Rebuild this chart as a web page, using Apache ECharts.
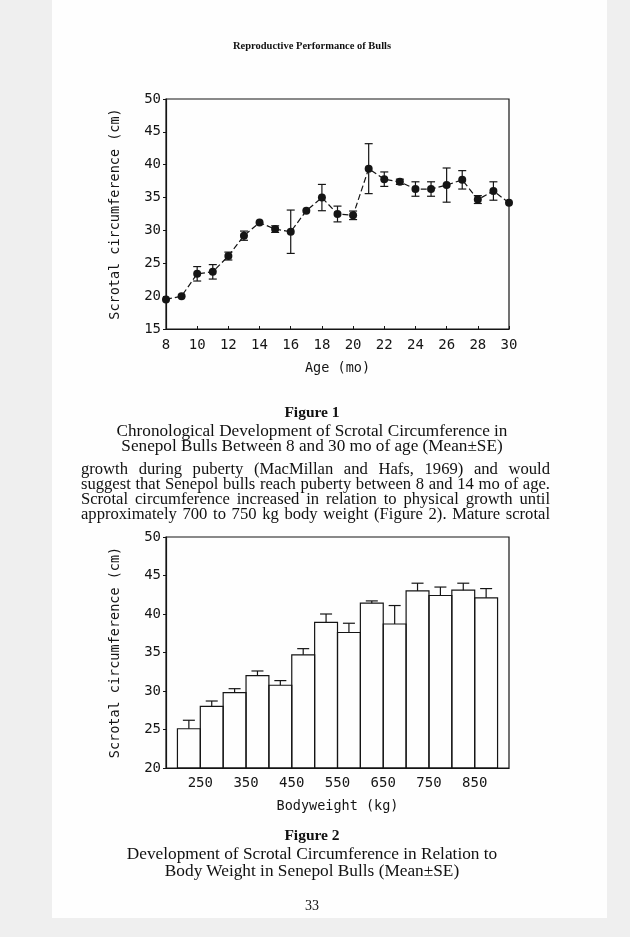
<!DOCTYPE html>
<html><head><meta charset="utf-8">
<script src="https://cdn.jsdelivr.net/npm/echarts@6/dist/echarts.min.js"></script>
<style>
html,body{margin:0;padding:0;background:#efefef;}
#page{position:absolute;left:52px;top:0;width:555px;height:918px;background:#fefefe;}
#chart{position:absolute;left:0;top:0;width:630px;height:937px;}
.t{position:absolute;font-family:"Liberation Serif","Times New Roman",serif;color:#111;white-space:nowrap;}
.c{left:0;width:624px;text-align:center;}
.j{left:81px;width:469px;text-align:justify;text-align-last:justify;font-size:16.6px;line-height:17px;}
</style></head>
<body>
<div id="page"></div>
<div id="chart"></div>
<div class="t c" style="top:40px;font-size:10.5px;line-height:11px;font-weight:bold;">Reproductive Performance of Bulls</div>
<div class="t c" style="top:404px;font-size:15.5px;line-height:16px;font-weight:bold;">Figure 1</div>
<div class="t c" style="top:421.5px;font-size:17.2px;line-height:17px;">Chronological Development of Scrotal Circumference in</div>
<div class="t c" style="top:436.5px;font-size:17.2px;line-height:17px;">Senepol Bulls Between 8 and 30 mo of age (Mean±SE)</div>
<div class="t j" style="top:460px;">growth during puberty (MacMillan and Hafs, 1969) and would</div>
<div class="t j" style="top:475px;">suggest that Senepol bulls reach puberty between 8 and 14 mo of age.</div>
<div class="t j" style="top:490px;">Scrotal circumference increased in relation to physical growth until</div>
<div class="t j" style="top:504.5px;">approximately 700 to 750 kg body weight (Figure 2). Mature scrotal</div>
<div class="t c" style="top:827px;font-size:15.5px;line-height:16px;font-weight:bold;">Figure 2</div>
<div class="t c" style="top:845px;font-size:17.3px;line-height:17px;">Development of Scrotal Circumference in Relation to</div>
<div class="t c" style="top:861.5px;font-size:17.3px;line-height:17px;">Body Weight in Senepol Bulls (Mean±SE)</div>
<div class="t c" style="top:899px;font-size:14px;line-height:14px;">33</div>
<script>
// Figure 1 data
const ages = [8,9,10,11,12,13,14,15,16,17,18,19,20,21,22,23,24,25,26,27,28,29,30];
const meanByAge = [19.5,20.0,23.4,23.7,26.1,29.2,31.2,30.2,29.8,33.0,35.0,32.5,32.3,39.4,37.8,37.4,36.3,36.3,36.9,37.7,34.7,36.0,34.2];
const seByAge = [0,0,1.1,1.1,0.6,0.7,0,0.5,3.3,0,2.0,1.2,0.65,3.8,1.1,0.4,1.1,1.1,2.6,1.4,0.6,1.4,0];
const ageTicks = [8,10,12,14,16,18,20,22,24,26,28,30];
// Figure 2 data
const weightMid = [225,275,325,375,425,475,525,575,625,675,725,775,825,875];
const binHalf = 25;
const meanByWeight = [25.1,28.0,29.8,32.0,30.75,34.7,38.9,37.6,41.4,38.7,43.0,42.4,43.1,42.1];
const seByWeight = [1.1,0.7,0.5,0.6,0.6,0.8,1.1,1.2,0.3,2.4,1.0,1.1,0.9,1.2];
const weightTicks = [250,350,450,550,650,750,850];

const ink = '#151515';
const mono = '"DejaVu Sans Mono", monospace';
const chart = echarts.init(document.getElementById('chart'), null, {renderer:'canvas'});

const lineData = ages.map((a,i)=>[a, meanByAge[i]]);
const errData = ages.map((a,i)=>[a, meanByAge[i]-seByAge[i], meanByAge[i]+seByAge[i]]).filter((d,i)=>seByAge[i]>0);
const barData = weightMid.map((w,i)=>[w-binHalf, w+binHalf, meanByWeight[i], meanByWeight[i]+seByWeight[i]]);

const labelStyle = {color: ink, fontFamily: mono, fontSize: 14};
const nameStyle = {color: ink, fontFamily: mono, fontSize: 13.5};

chart.setOption({
  animation: false,
  grid: [
    {left:166, top:99, width:343, height:230, show:true, borderColor:ink, borderWidth:1.2, backgroundColor:'transparent'},
    {left:166, top:537, width:343, height:231, show:true, borderColor:ink, borderWidth:1.2, backgroundColor:'transparent'}
  ],
  xAxis: [
    {type:'value', gridIndex:0, min:8, max:30, interval:2,
     name:'Age (mo)', nameLocation:'middle', nameGap:32, nameTextStyle:nameStyle,
     axisLine:{lineStyle:{color:ink, width:1.2}},
     axisTick:{show:true, inside:true, length:3, lineStyle:{color:ink}},
     axisLabel:{...labelStyle, margin:9, customValues: ageTicks},
     splitLine:{show:false}},
    {type:'value', gridIndex:1, min:175, max:925,
     name:'Bodyweight (kg)', nameLocation:'middle', nameGap:31, nameTextStyle:nameStyle,
     axisLine:{lineStyle:{color:ink, width:1.2}},
     axisTick:{show:false},
     axisLabel:{...labelStyle, margin:8, customValues: weightTicks},
     splitLine:{show:false}}
  ],
  yAxis: [
    {type:'value', gridIndex:0, min:15, max:50, interval:5,
     name:'Scrotal circumference (cm)', nameLocation:'middle', nameGap:44, nameTextStyle:nameStyle,
     axisLine:{show:true, lineStyle:{color:ink, width:1.2}},
     axisTick:{show:true, length:3, lineStyle:{color:ink}},
     axisLabel:{...labelStyle, margin:5},
     splitLine:{show:false}},
    {type:'value', gridIndex:1, min:20, max:50, interval:5,
     name:'Scrotal circumference (cm)', nameLocation:'middle', nameGap:44, nameTextStyle:nameStyle,
     axisLine:{show:true, lineStyle:{color:ink, width:1.2}},
     axisTick:{show:true, length:3, lineStyle:{color:ink}},
     axisLabel:{...labelStyle, margin:5},
     splitLine:{show:false}}
  ],
  series: [
    {type:'line', xAxisIndex:0, yAxisIndex:0, data: lineData,
     symbol:'circle', symbolSize:8, itemStyle:{color:ink},
     lineStyle:{color:ink, width:1.2, type:[6,3]}, z:3},
    {type:'custom', xAxisIndex:0, yAxisIndex:0, data: errData, z:4,
     renderItem:(params, api)=>{
       const x = api.value(0);
       const lo = api.coord([x, api.value(1)]);
       const hi = api.coord([x, api.value(2)]);
       const w = 4;
       const st = {stroke:ink, lineWidth:1.2};
       return {type:'group', children:[
         {type:'line', shape:{x1:lo[0], y1:lo[1], x2:hi[0], y2:hi[1]}, style:st},
         {type:'line', shape:{x1:lo[0]-w, y1:lo[1], x2:lo[0]+w, y2:lo[1]}, style:st},
         {type:'line', shape:{x1:hi[0]-w, y1:hi[1], x2:hi[0]+w, y2:hi[1]}, style:st}
       ]};
     }},
    {type:'custom', xAxisIndex:1, yAxisIndex:1, data: barData, z:3,
     renderItem:(params, api)=>{
       const x0 = api.value(0), x1 = api.value(1), v = api.value(2), top = api.value(3);
       const p0 = api.coord([x0, 20]);
       const p1 = api.coord([x1, v]);
       const mid = (x0+x1)/2;
       const a = api.coord([mid, v]);
       const b = api.coord([mid, top]);
       const st = {stroke:ink, lineWidth:1.2};
       return {type:'group', children:[
         {type:'rect', shape:{x:p0[0], y:p1[1], width:p1[0]-p0[0], height:p0[1]-p1[1]}, style:{fill:'transparent', stroke:ink, lineWidth:1.2}},
         {type:'line', shape:{x1:a[0], y1:a[1], x2:b[0], y2:b[1]}, style:st},
         {type:'line', shape:{x1:b[0]-6, y1:b[1], x2:b[0]+6, y2:b[1]}, style:st}
       ]};
     }}
  ]
});
</script>
</body></html>
